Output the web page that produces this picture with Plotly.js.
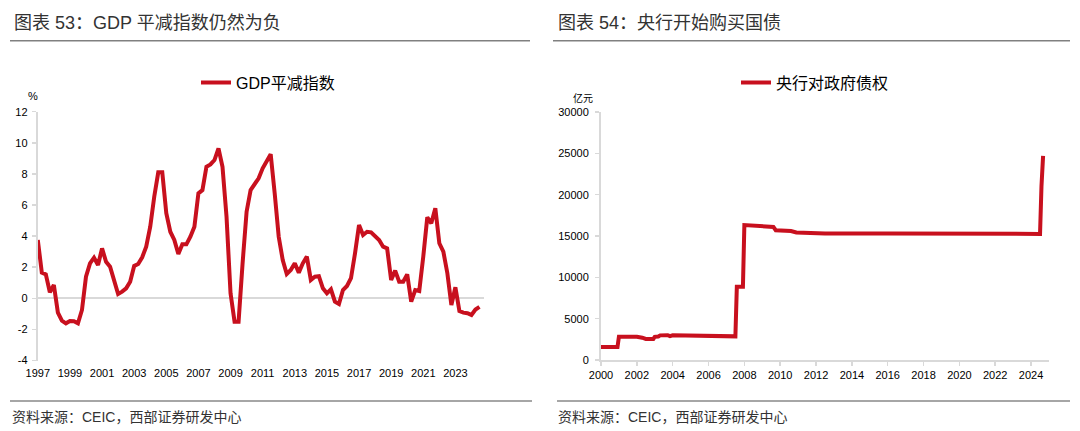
<!DOCTYPE html>
<html><head><meta charset="utf-8">
<script src="https://cdn.plot.ly/plotly-3.0.1.min.js"></script>
<style>html,body{margin:0;padding:0;background:#fff}#chart{width:1080px;height:431px}</style>
</head><body><div id="chart"></div>
<script>
// ---- Left chart: GDP deflator (%, quarterly, from 1997Q1) ----
const gdpStartYear = 1997;
const gdpDeflator = [
  3.75, 1.65, 1.54, 0.39, 0.86, -0.92, -1.44, -1.61,
  -1.46, -1.48, -1.61, -0.75, 1.39, 2.25, 2.61, 2.14,
  3.21, 2.35, 2.03, 1.18, 0.28, 0.43, 0.64, 1.07,
  2.08, 2.21, 2.64, 3.32, 4.6, 6.53, 8.1, 8.1,
  5.47, 4.28, 3.75, 2.85, 3.47, 3.47, 3.96, 4.6,
  6.75, 6.96, 8.46, 8.61, 8.89, 9.64, 8.46, 5.25,
  0.32, -1.5, -1.5, 2.25, 5.57, 6.96, 7.33, 7.72,
  8.36, 8.83, 9.26, 6.75, 3.96, 2.46, 1.56, 1.82,
  2.25, 1.65, 2.25, 2.68, 1.18, 1.39, 1.42, 0.64,
  0.32, 0.58, -0.22, -0.37, 0.53, 0.79, 1.29, 2.89,
  4.71, 4.07, 4.28, 4.24, 3.96, 3.75, 3.32, 3.21,
  1.18, 1.78, 1.07, 1.07, 1.54, -0.22, 0.53, 0.47,
  2.68, 5.21, 4.82, 5.79, 3.54, 3.0, 1.61, -0.43,
  0.71, -0.82, -0.92, -0.96, -1.07, -0.72, -0.55
];
const gdpTickVals = [1997,1999,2001,2003,2005,2007,2009,2011,2013,2015,2017,2019,2021,2023];
const gdpTickText = gdpTickVals.map(String);
const gdpYTickVals = [-4, -2, 0, 2, 4, 6, 8, 10, 12];
const gdpYTickText = ['-4', '-2', '0', '2', '4', '6', '8', '10', '12'];
const gdpSeriesName = 'GDP平减指数';

// ---- Right chart: PBC claims on government (亿元) ----
const pbcYears = [2000.0, 2000.92, 2001.0, 2001.5, 2002.0, 2002.3, 2002.5, 2002.92, 2003.0, 2003.2, 2003.3,
  2003.72, 2003.85, 2004.0, 2005.0, 2006.0, 2007.0, 2007.5, 2007.58, 2007.92, 2008.0, 2008.5, 2009.0,
  2009.5, 2009.62, 2009.75, 2010.4, 2010.6, 2010.9, 2012.0, 2012.5, 2016.0, 2020.0, 2024.5, 2024.58, 2024.67];
const pbcClaims = [1580, 1580, 2820, 2850, 2820, 2700, 2550, 2550, 2800, 2850, 2980,
  3000, 2880, 2980, 2950, 2900, 2870, 2860, 8850, 8850, 16320, 16280, 16250,
  16200, 16100, 15700, 15650, 15600, 15420, 15350, 15300, 15300, 15260, 15250, 21000, 24700];
const pbcTickVals = [2000,2002,2004,2006,2008,2010,2012,2014,2016,2018,2020,2022,2024];
const pbcTickText = pbcTickVals.map(String);
const pbcSeriesName = '央行对政府债权';

const gdpYears = gdpDeflator.map((_, i) => gdpStartYear + i / 4);

const FONT = "'Liberation Sans', 'Noto Sans CJK SC', sans-serif";
const RED = '#c8101e';
const AXIS = '#d9d9d9';
const W = 1080, H = 431;
const px = v => v / W;
const py = v => (H - v) / H;

const traces = [
  {x: gdpYears, y: gdpDeflator, type: 'scatter', mode: 'lines', name: gdpSeriesName,
   line: {color: RED, width: 4}, xaxis: 'x', yaxis: 'y', legend: 'legend', hoverinfo: 'skip'},
  {x: pbcYears, y: pbcClaims, type: 'scatter', mode: 'lines', name: pbcSeriesName,
   line: {color: RED, width: 4}, xaxis: 'x2', yaxis: 'y2', legend: 'legend2', hoverinfo: 'skip'}
];

const tickFont = {family: FONT, size: 11, color: '#000'};

const layout = {
  width: W, height: H,
  margin: {l: 0, r: 0, t: 0, b: 0},
  paper_bgcolor: '#fff', plot_bgcolor: '#fff',
  font: {family: FONT, color: '#000'},
  showlegend: true,
  xaxis: {domain: [px(37.8), px(483.5)], range: [1997, 2024.75], anchor: 'y',
    tickmode: 'array', tickvals: gdpTickVals, ticktext: gdpTickText,
    showline: false, showgrid: false, zeroline: false, ticks: '',
    tickfont: tickFont, ticklabelstandoff: 4, fixedrange: true},
  xaxis3: {overlaying: 'x', anchor: 'free', position: py(298.3), range: [1997, 2024.75],
    tickmode: 'array', tickvals: gdpTickVals, showticklabels: false,
    showline: false, showgrid: false, zeroline: false,
    ticks: 'outside', ticklen: 4, tickwidth: 1.5, tickcolor: AXIS},
  yaxis: {domain: [py(360.5), py(111.7)], range: [-4, 12], anchor: 'x',
    tickmode: 'array', tickvals: gdpYTickVals, ticktext: gdpYTickText,
    showline: true, linecolor: AXIS, linewidth: 2, ticks: 'outside', ticklen: 4, tickwidth: 1.5, tickcolor: AXIS,
    zeroline: true, zerolinecolor: AXIS, zerolinewidth: 2, showgrid: false,
    tickfont: tickFont, ticklabelstandoff: 2},
  xaxis2: {domain: [px(601), px(1049)], range: [2000, 2025], anchor: 'y2',
    tickmode: 'array', tickvals: pbcTickVals, ticktext: pbcTickText,
    showline: true, linecolor: AXIS, linewidth: 2, ticks: 'outside', ticklen: 4, tickwidth: 1.5, tickcolor: AXIS,
    showgrid: false, zeroline: false, tickfont: tickFont},
  yaxis2: {domain: [py(360), py(112)], range: [0, 30000], dtick: 5000, anchor: 'x2', tickformat: 'd',
    showline: true, linecolor: AXIS, linewidth: 2, ticks: 'outside', ticklen: 4, tickwidth: 1.5, tickcolor: AXIS,
    showgrid: false, zeroline: false, tickfont: tickFont, ticklabelstandoff: 4},
  legend: {x: px(196), y: py(82.5), xanchor: 'left', yanchor: 'middle', orientation: 'h',
    font: {family: FONT, size: 16, color: '#000'}, bgcolor: 'rgba(0,0,0,0)'},
  legend2: {x: px(736), y: py(82.5), xanchor: 'left', yanchor: 'middle', orientation: 'h',
    font: {family: FONT, size: 16, color: '#000'}, bgcolor: 'rgba(0,0,0,0)'},
  annotations: [
    {text: '图表 53：GDP 平减指数仍然为负', xref: 'paper', yref: 'paper', x: px(12), y: py(23),
     xanchor: 'left', yanchor: 'middle', showarrow: false, font: {family: FONT, size: 18, color: '#333'}},
    {text: '图表 54：央行开始购买国债', xref: 'paper', yref: 'paper', x: px(556), y: py(23),
     xanchor: 'left', yanchor: 'middle', showarrow: false, font: {family: FONT, size: 18, color: '#333'}},
    {text: '%', xref: 'paper', yref: 'paper', x: px(33), y: py(96),
     xanchor: 'center', yanchor: 'middle', showarrow: false, font: {family: FONT, size: 11, color: '#000'}},
    {text: '亿元', xref: 'paper', yref: 'paper', x: px(583), y: py(98),
     xanchor: 'center', yanchor: 'middle', showarrow: false, font: {family: FONT, size: 10, color: '#000'}},
    {text: '资料来源：CEIC，西部证券研发中心', xref: 'paper', yref: 'paper', x: px(10), y: py(417),
     xanchor: 'left', yanchor: 'middle', showarrow: false, font: {family: FONT, size: 14, color: '#333'}},
    {text: '资料来源：CEIC，西部证券研发中心', xref: 'paper', yref: 'paper', x: px(556), y: py(417),
     xanchor: 'left', yanchor: 'middle', showarrow: false, font: {family: FONT, size: 14, color: '#333'}}
  ],
  shapes: [
    {type: 'line', xref: 'paper', yref: 'paper', x0: px(10), x1: px(530), y0: py(40.8), y1: py(40.8), line: {color: '#808080', width: 1.5}},
    {type: 'line', xref: 'paper', yref: 'paper', x0: px(553), x1: px(1070), y0: py(40.8), y1: py(40.8), line: {color: '#808080', width: 1.5}},
    {type: 'line', xref: 'paper', yref: 'paper', x0: px(10), x1: px(532), y0: py(401), y1: py(401), line: {color: '#a6a6a6', width: 2}},
    {type: 'line', xref: 'paper', yref: 'paper', x0: px(557), x1: px(1070), y0: py(401), y1: py(401), line: {color: '#a6a6a6', width: 2}}
  ]
};

Plotly.newPlot('chart', traces, layout, {staticPlot: true, displayModeBar: false});
</script>
</body></html>
